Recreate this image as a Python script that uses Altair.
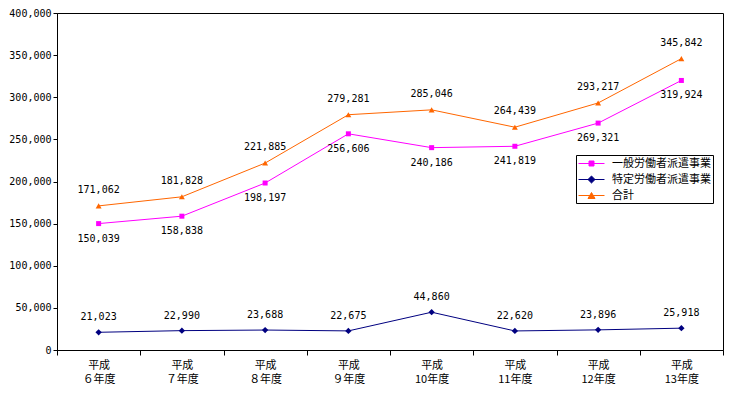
import altair as alt
import pandas as pd

years = ["平成\n６年度", "平成\n７年度", "平成\n８年度", "平成\n９年度",
         "平成\n10年度", "平成\n11年度", "平成\n12年度", "平成\n13年度"]
series = ["一般労働者派遣事業", "特定労働者派遣事業", "合計"]
ippan = [150039, 158838, 198197, 256606, 240186, 241819, 269321, 319924]
tokutei = [21023, 22990, 23688, 22675, 44860, 22620, 23896, 25918]
total = [171062, 181828, 221885, 279281, 285046, 264439, 293217, 345842]
y_ticks = [0, 50000, 100000, 150000, 200000, 250000, 300000, 350000, 400000]

colors = ["#FF00FF", "#000080", "#FF6600"]
shapes = ["square", "diamond", "triangle-up"]
label_dy = [15, -15, -16]
point_size = [25, 40, 35]
legend_paths = [
    "M-1,0H3.333M0.75,-0.4167H1.583V0.4167H0.75Z",
    "M-1,0H3.333M0.583,0L1.167,-0.583L1.75,0L1.167,0.583Z",
    "M-1,0H3.333M0.583,0.5L1.167,-0.5L1.75,0.5Z",
]

rows = []
for s, vals in zip(series, [ippan, tokutei, total]):
    for yr, v in zip(years, vals):
        rows.append({"year": yr, "series": s, "value": v, "label": f"{v:,}"})
df = pd.DataFrame(rows)

x = alt.X("year:N", sort=years, title=None,
          scale=alt.Scale(type="band", paddingInner=0, paddingOuter=0),
          axis=alt.Axis(labelAngle=0, tickBand="extent", tickSize=5, labelPadding=4,
                        labelExpr="split(datum.label, '\\n')",
                        labelFont="Noto Sans CJK JP", labelFontSize=11,
                        labelLineHeight=14, grid=False))
y = alt.Y("value:Q", title=None, scale=alt.Scale(domain=[0, 400000], nice=False),
          axis=alt.Axis(values=y_ticks, labelExpr="format(datum.value, ',.0f')",
                        tickSize=4, labelPadding=2,
                        labelFont="DejaVu Sans Mono", labelFontSize=10, grid=False))

base = alt.Chart(df)

layers = []
for s, c, shp, sz in zip(series, colors, shapes, point_size):
    sub = base.transform_filter(alt.datum.series == s)
    layers.append(sub.mark_line(strokeWidth=1, color=c).encode(x=x, y=y))
    layers.append(sub.mark_point(filled=True, shape=shp, size=sz, opacity=1, color=c).encode(x=x, y=y))
for s, dy in zip(series, label_dy):
    sub = base.transform_filter(alt.datum.series == s)
    layers.append(
        sub.mark_text(dy=dy, font="DejaVu Sans Mono", fontSize=10, color="black")
        .encode(x=x, y=y, text="label:N")
    )

leg = dict(orient="none", legendX=519, legendY=142, title=None, padding=2,
           rowPadding=4, symbolSize=144, symbolStrokeWidth=1, labelOffset=21,
           labelFont="Noto Sans CJK JP", labelFontSize=11, labelColor="black",
           fillColor="white", strokeColor="black", symbolOpacity=1, labelLimit=300)

legend_layer = base.mark_point(filled=True).encode(
    x=x, y=y,
    opacity=alt.value(0),
    fill=alt.Fill("series:N", scale=alt.Scale(domain=series, range=colors), legend=alt.Legend(**leg)),
    stroke=alt.Stroke("series:N", scale=alt.Scale(domain=series, range=colors), legend=alt.Legend(**leg)),
    shape=alt.Shape("series:N", scale=alt.Scale(domain=series, range=legend_paths), legend=alt.Legend(**leg)),
)
layers.append(legend_layer)

chart = alt.layer(*layers).properties(
    width=666, height=337,
    padding={"left": 0, "top": 0, "right": 0, "bottom": 0},
    background="white",
).configure_view(stroke="black", strokeWidth=1).configure_axis(
    domainColor="black", tickColor="black", labelColor="black", domainWidth=1, tickWidth=1
)

chart.save("out.html", embed_options={"renderer": "svg", "actions": False})
